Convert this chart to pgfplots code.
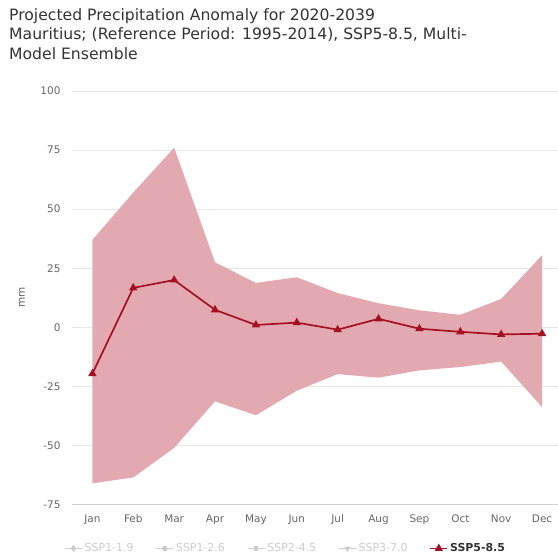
\documentclass[border=0pt]{standalone}
\usepackage{pgfplots}
\pgfplotsset{compat=1.18}
\usepgfplotslibrary{fillbetween}
\usepackage{fontspec}
\setmainfont{DejaVu Sans}
\definecolor{bandc}{RGB}{226,170,176}
\definecolor{linec}{RGB}{165,15,35}
\definecolor{titlec}{RGB}{51,51,51}
\definecolor{tickc}{RGB}{102,102,102}
\definecolor{gridc}{RGB}{230,230,230}
\definecolor{fadec}{RGB}{204,204,204}
\pgfplotstableread{
x mean upper lower
0 -19.6 37 -66
1 16.7 57 -63.5
2 20 76 -51
3 7.4 27.5 -31.3
4 1 18.8 -37.2
5 2 21.2 -26.8
6 -1 14.5 -19.8
7 3.6 10.2 -21.3
8 -0.6 7.2 -18.2
9 -1.9 5.3 -16.8
10 -3 12 -14.5
11 -2.7 30.5 -33.7
}\datatable
\begin{document}
\begin{tikzpicture}
\path (0bp,0bp) rectangle (558bp,558bp);
\node[anchor=north west, align=left, text=titlec, font=\fontsize{15.7}{20}\selectfont, inner sep=0pt] at (9bp,550bp)
{Projected Precipitation Anomaly for 2020-2039\\Mauritius; (Reference Period: 1995-2014), SSP5-8.5, Multi-\\Model Ensemble};
\begin{axis}[
  at={(72bp,53bp)}, anchor=south west,
  scale only axis, width=486bp, height=414bp,
  xmin=-0.5, xmax=11.38, ymin=-75, ymax=100,
  axis line style={draw=none},
  ytick={-75,-50,-25,0,25,50,75,100},
  xtick={0,...,11},
  xticklabels={Jan,Feb,Mar,Apr,May,Jun,Jul,Aug,Sep,Oct,Nov,Dec},
  major tick length=0pt,
  /pgf/number format/assume math mode=true,
  ymajorgrids, grid style={gridc, line width=0.8pt},
  tick label style={text=tickc, font=\fontsize{10.5}{12}\selectfont},
  yticklabel style={xshift=-8bp},
  xticklabel style={yshift=-6bp, text height=8bp, text depth=2.5bp},
  ylabel={mm}, ylabel style={text=tickc, font=\fontsize{10.5}{12}\selectfont, at={(axis description cs:-0.103,0.5)}, anchor=center},
  legend columns=5,
  legend style={draw=none, fill=none, at={(axis description cs:0.440,-0.106)}, anchor=center,
    font=\fontsize{11}{13}\selectfont,
    /tikz/every even column/.append style={column sep=20bp}},
  legend cell align=left,
]
\addlegendimage{fadec, line width=1.5pt, mark=diamond*, mark options={fadec, scale=1.2}}
\addlegendentry{\textcolor{fadec}{SSP1-1.9}}
\addlegendimage{fadec, line width=1.5pt, mark=*, mark options={fadec}}
\addlegendentry{\textcolor{fadec}{SSP1-2.6}}
\addlegendimage{fadec, line width=1.5pt, mark=square*, mark options={fadec, scale=0.8}}
\addlegendentry{\textcolor{fadec}{SSP2-4.5}}
\addlegendimage{fadec, line width=1.5pt, mark=triangle*, mark options={fadec, rotate=180}}
\addlegendentry{\textcolor{fadec}{SSP3-7.0}}
\addplot[name path=up, draw=none, forget plot] table[x=x, y=upper] {\datatable};
\addplot[name path=lo, draw=none, forget plot] table[x=x, y=lower] {\datatable};
\addplot[bandc, forget plot] fill between[of=up and lo];
\addplot[linec, line width=1.7pt, mark=triangle*, mark size=3.2pt, mark options={linec, solid}] table[x=x, y=mean] {\datatable};
\addlegendentry{\textcolor{titlec}{\bfseries SSP5-8.5}}
\draw[gridc!80!gray, line width=0.8pt] (axis cs:-0.5,-75) -- (axis cs:11.38,-75);
\end{axis}
\end{tikzpicture}
\end{document}
